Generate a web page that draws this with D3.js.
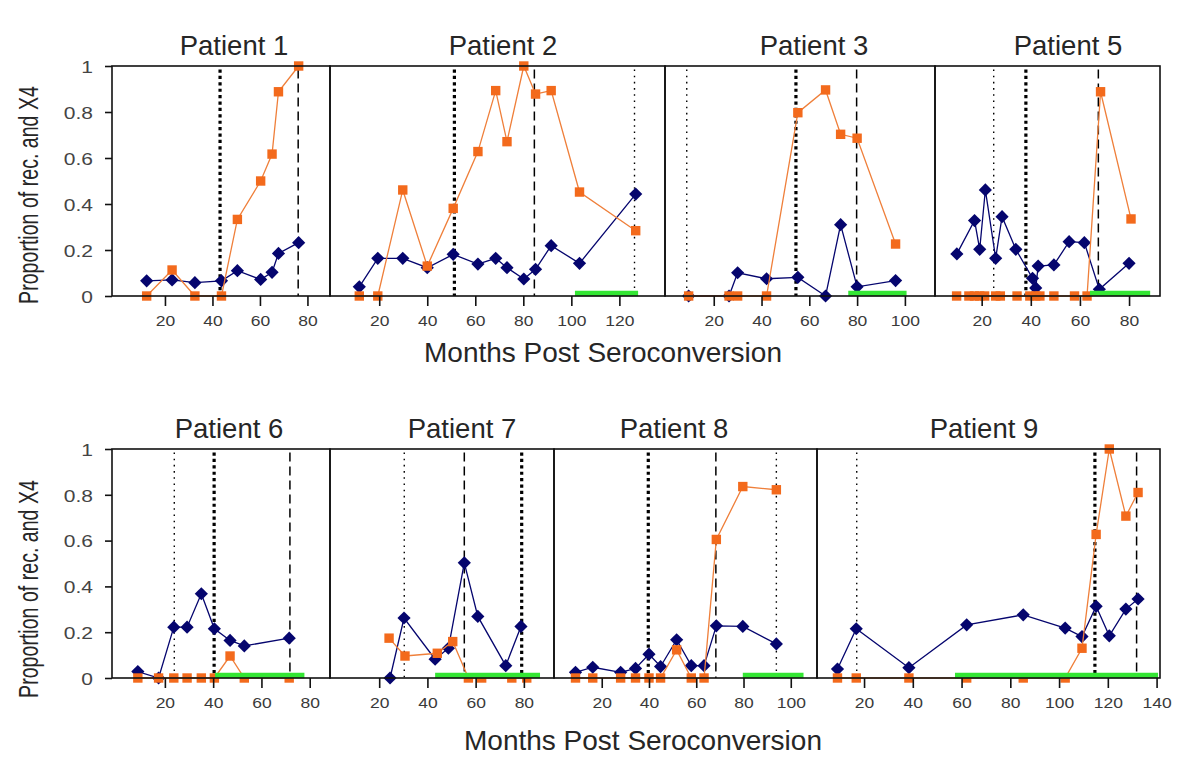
<!DOCTYPE html>
<html>
<head>
<meta charset="utf-8">
<script src="https://cdn.jsdelivr.net/npm/d3@7"></script>
<style>
  html, body { margin: 0; padding: 0; background: #fff; }
  svg { display: block; }
  text { font-family: "Liberation Sans", Arial, sans-serif; }
</style>
</head>
<body>
<svg id="chart" width="1200" height="767"></svg>
<script>
// ---------------- DATA ----------------
const patientNames = ["Patient 1", "Patient 2", "Patient 3", "Patient 5", "Patient 6", "Patient 7", "Patient 8", "Patient 9"];
const yTicks = [0, 0.2, 0.4, 0.6, 0.8, 1];
const yTickLabels = ["0", "0.2", "0.4", "0.6", "0.8", "1"];

// Patient 1
const p1Months = [12.3, 23.0, 32.6, 43.8, 50.5, 60.3, 65.1, 67.8, 76.3];
const p1Rec = [0.066, 0.07, 0.058, 0.066, 0.11, 0.072, 0.103, 0.185, 0.232];
const p1X4 = [0, 0.113, 0, 0, 0.333, 0.50, 0.617, 0.888, 1.0];
const p1Ticks = [20, 40, 60, 80];
const p1Markers = { thickDot: [43.2], dashed: [76.1], thinDot: [] };
const p1Therapy = [];

// Patient 2
const p2Months = [11.7, 19.4, 29.8, 40.0, 50.8, 61.1, 68.5, 73.2, 80.2, 85.1, 91.6, 103.4, 126.8];
const p2Rec = [0.04, 0.164, 0.164, 0.123, 0.181, 0.139, 0.164, 0.123, 0.074, 0.116, 0.219, 0.142, 0.443];
const p2X4 = [0, 0, 0.461, 0.13, 0.381, 0.628, 0.893, 0.671, 1.0, 0.878, 0.893, 0.452, 0.284];
const p2Ticks = [20, 40, 60, 80, 100, 120];
const p2Markers = { thickDot: [51.3], dashed: [84.6], thinDot: [126.3] };
const p2Therapy = [101.5, 127.8];

// Patient 3
const p3Months = [9.5, 26.4, 30.0, 42.1, 55.2, 66.8, 73.1, 80.0, 96.1];
const p3Rec = [0, 0, 0.101, 0.075, 0.081, 0, 0.31, 0.04, 0.067];
const p3X4 = [0, 0, 0, 0, 0.797, 0.896, 0.703, 0.686, 0.226];
const p3Ticks = [20, 40, 60, 80, 100];
const p3Markers = { thickDot: [54.4], dashed: [79.8], thinDot: [8.7] };
const p3Therapy = [76.3, 100.7];

// Patient 5
const p5RecMonths = [9.9, 17.1, 19.2, 21.5, 25.7, 28.3, 33.9, 40.7, 42.0, 43.0, 49.4, 55.6, 61.8, 67.9, 80.0];
const p5Rec = [0.183, 0.328, 0.203, 0.461, 0.164, 0.345, 0.203, 0.077, 0.035, 0.13, 0.135, 0.236, 0.232, 0.029, 0.142];
const p5X4Months = [9.8, 14.8, 17.1, 19.2, 21.2, 25.7, 27.6, 34.4, 39.6, 42.0, 43.7, 49.4, 57.8, 62.9, 68.4, 80.8];
const p5X4 = [0, 0, 0, 0, 0, 0, 0, 0, 0, 0, 0, 0, 0, 0, 0.888, 0.335];
const p5Ticks = [20, 40, 60, 80];
const p5Markers = { thickDot: [38.0], dashed: [67.5], thinDot: [24.9] };
const p5Therapy = [64.1, 88.6];

// Patient 6
const p6Months = [8.8, 17.4, 23.7, 29.2, 35.1, 40.5, 47.0, 52.9, 71.5];
const p6Rec = [0.028, 0, 0.222, 0.222, 0.368, 0.215, 0.164, 0.14, 0.174];
const p6X4 = [0, 0, 0, 0, 0, 0, 0.096, 0, 0];
const p6Ticks = [20, 40, 60, 80];
const p6Markers = { thickDot: [40.4], dashed: [71.8], thinDot: [23.9] };
const p6Therapy = [40.8, 77.8];

// Patient 7
const p7RecMonths = [24.5, 30.3, 43.2, 48.7, 55.3, 60.9, 72.5, 78.8];
const p7Rec = [0, 0.262, 0.082, 0.13, 0.503, 0.269, 0.054, 0.225];
const p7X4Months = [24.1, 30.7, 44.1, 50.5, 57.0, 62.5, 75.0, 81.2];
const p7X4 = [0.174, 0.096, 0.108, 0.159, 0, 0, 0, 0];
const p7Ticks = [20, 40, 60, 80];
const p7Markers = { thickDot: [79.1], dashed: [55.3], thinDot: [30.4] };
const p7Therapy = [43.2, 86.7];

// Patient 8
const p8Months = [8.9, 16.2, 28.0, 34.3, 40.0, 44.9, 51.7, 57.9, 63.3, 68.5, 79.7, 93.9];
const p8Rec = [0.025, 0.047, 0.025, 0.042, 0.104, 0.05, 0.167, 0.054, 0.054, 0.228, 0.225, 0.149];
const p8X4 = [0, 0, 0, 0, 0, 0, 0.123, 0, 0, 0.605, 0.836, 0.822];
const p8Ticks = [20, 40, 60, 80, 100];
const p8Markers = { thickDot: [39.7], dashed: [68.3], thinDot: [93.9] };
const p8Therapy = [79.7, 105.4];

// Patient 9
const p9Months = [9.1, 16.8, 38.4, 62.1, 85.3, 102.5, 109.4, 115.2, 120.6, 127.4, 132.4];
const p9Rec = [0.039, 0.215, 0.045, 0.232, 0.276, 0.218, 0.181, 0.313, 0.184, 0.301, 0.345];
const p9X4 = [0, 0, 0, 0, 0, 0, 0.13, 0.627, 1.0, 0.707, 0.81];
const p9Ticks = [20, 40, 60, 80, 100, 120, 140];
const p9Markers = { thickDot: [114.7], dashed: [131.8], thinDot: [17.0] };
const p9Therapy = [57.3, 140.6];

// ---------------- LAYOUT ----------------
const rows = [
  { top: 66, bottom: 296, xTitleX: 603, xTitleY: 362, yTitleY: 195 },
  { top: 449, bottom: 678, xTitleX: 643, xTitleY: 750, yTitleY: 589 }
];
const panels = [
  { name: patientNames[0], row: 0, x0: 112, x1: 330, domain: [-2.3, 89.5], titleX: 234, ticks: p1Ticks, recM: p1Months, rec: p1Rec, x4M: p1Months, x4: p1X4, marks: p1Markers, therapy: p1Therapy, yAxis: true },
  { name: patientNames[1], row: 0, x0: 330, x1: 665, domain: [-0.5, 139], titleX: 503, ticks: p2Ticks, recM: p2Months, rec: p2Rec, x4M: p2Months, x4: p2X4, marks: p2Markers, therapy: p2Therapy },
  { name: patientNames[2], row: 0, x0: 665, x1: 935, domain: [-0.4, 112.6], titleX: 814, ticks: p3Ticks, recM: p3Months, rec: p3Rec, x4M: p3Months, x4: p3X4, marks: p3Markers, therapy: p3Therapy },
  { name: patientNames[3], row: 0, x0: 935, x1: 1160, domain: [1.0, 92.6], titleX: 1068, ticks: p5Ticks, recM: p5RecMonths, rec: p5Rec, x4M: p5X4Months, x4: p5X4, marks: p5Markers, therapy: p5Therapy },
  { name: patientNames[4], row: 1, x0: 112, x1: 330, domain: [-1.9, 88.4], titleX: 229, ticks: p6Ticks, recM: p6Months, rec: p6Rec, x4M: p6Months, x4: p6X4, marks: p6Markers, therapy: p6Therapy, yAxis: true },
  { name: patientNames[5], row: 1, x0: 330, x1: 554, domain: [-0.4, 92.5], titleX: 462, ticks: p7Ticks, recM: p7RecMonths, rec: p7Rec, x4M: p7X4Months, x4: p7X4, marks: p7Markers, therapy: p7Therapy },
  { name: patientNames[6], row: 1, x0: 554, x1: 817, domain: [-0.2, 111.1], titleX: 674, ticks: p8Ticks, recM: p8Months, rec: p8Rec, x4M: p8Months, x4: p8X4, marks: p8Markers, therapy: p8Therapy },
  { name: patientNames[7], row: 1, x0: 817, x1: 1160, domain: [0.7, 141.4], titleX: 984, ticks: p9Ticks, recM: p9Months, rec: p9Rec, x4M: p9Months, x4: p9X4, marks: p9Markers, therapy: p9Therapy }
];

const NAVY = "#05056e";
const ORANGE = "#f36a1c";
const ORANGE_LINE = "#ef7f3a";
const GREEN = "#33e633";
const INK = "#111";
const TEXT = "#262626";

const svg = d3.select("#chart");

const lineStyles = {
  thickDot: { w: 3.2, dash: "3.2,3.2" },
  dashed: { w: 1.5, dash: "9,5" },
  thinDot: { w: 1.4, dash: "1.6,4.6" }
};

const diamond = s => `M0,${-s}L${s},0L0,${s}L${-s},0Z`;

panels.forEach(p => {
  const r = rows[p.row];
  const x = d3.scaleLinear().domain(p.domain).range([p.x0, p.x1]);
  const y = d3.scaleLinear().domain([0, 1]).range([r.bottom, r.top]);
  const g = svg.append("g");

  // Title
  g.append("text")
    .attr("x", p.titleX).attr("y", r.top - 11)
    .attr("text-anchor", "middle")
    .attr("font-size", 27.5).attr("fill", TEXT)
    .text(p.name);

  // Vertical event lines
  Object.keys(lineStyles).forEach(k => {
    p.marks[k].forEach(m => {
      g.append("line")
        .attr("x1", x(m)).attr("x2", x(m))
        .attr("y1", y(0.985)).attr("y2", y(0))
        .attr("stroke", "#000")
        .attr("stroke-width", lineStyles[k].w)
        .attr("stroke-dasharray", lineStyles[k].dash);
    });
  });

  const recPts = p.recM.map((m, i) => [m, p.rec[i]]);
  const x4Pts = p.x4M.map((m, i) => [m, p.x4[i]]);
  const line = d3.line().x(d => x(d[0])).y(d => y(d[1]));

  // Rec series (navy diamonds)
  g.append("path").attr("d", line(recPts))
    .attr("fill", "none").attr("stroke", NAVY).attr("stroke-width", 1.3);
  g.selectAll(".dia").data(recPts).enter().append("path")
    .attr("d", diamond(6.6))
    .attr("transform", d => `translate(${x(d[0])},${y(d[1])})`)
    .attr("fill", NAVY);

  // X4 series (orange squares)
  g.append("path").attr("d", line(x4Pts))
    .attr("fill", "none").attr("stroke", ORANGE_LINE).attr("stroke-width", 1.3);
  g.selectAll(".sq").data(x4Pts).enter().append("rect")
    .attr("x", d => x(d[0]) - 4.7).attr("y", d => y(d[1]) - 4.7)
    .attr("width", 9.4).attr("height", 9.4)
    .attr("fill", ORANGE);

  // Therapy bar
  if (p.therapy.length === 2) {
    g.append("line")
      .attr("x1", x(p.therapy[0])).attr("x2", x(p.therapy[1]))
      .attr("y1", y(0) - 2.5).attr("y2", y(0) - 2.5)
      .attr("stroke", GREEN).attr("stroke-width", 5.5);
  }

  // Frame
  g.append("rect")
    .attr("x", p.x0).attr("y", r.top)
    .attr("width", p.x1 - p.x0).attr("height", r.bottom - r.top)
    .attr("fill", "none").attr("stroke", INK).attr("stroke-width", 1.6);

  // X axis
  const xa = g.append("g").attr("transform", `translate(0,${r.bottom})`)
    .call(d3.axisBottom(x).tickValues(p.ticks).tickSize(10).tickFormat(d3.format("d")));
  xa.select(".domain").remove();
  xa.selectAll(".tick line").attr("stroke", INK).attr("stroke-width", 1.6);
  xa.selectAll(".tick text")
    .attr("y", 0).attr("dy", 0)
    .attr("transform", "translate(0,30) scale(1,0.88)")
    .attr("font-size", 17.5).attr("fill", "#3a3a3a")
    .attr("font-family", "'Liberation Sans', Arial, sans-serif");

  // Y axis
  if (p.yAxis) {
    const ya = g.append("g").attr("transform", `translate(${p.x0},0)`)
      .call(d3.axisLeft(y).tickValues(yTicks).tickSize(7)
        .tickFormat((d, i) => yTickLabels[i]));
    ya.select(".domain").remove();
    ya.selectAll(".tick line").attr("stroke", INK).attr("stroke-width", 1.6);
    ya.selectAll(".tick text")
      .attr("x", 0).attr("dy", 0)
      .attr("transform", "translate(-19,6.2) scale(1,0.82)")
      .attr("font-size", 21).attr("fill", "#444")
      .attr("font-family", "'Liberation Sans', Arial, sans-serif");
  }
});

// Axis titles
rows.forEach(r => {
  svg.append("text")
    .attr("x", r.xTitleX).attr("y", r.xTitleY)
    .attr("text-anchor", "middle").attr("font-size", 28).attr("fill", TEXT)
    .text("Months Post Seroconversion");
  svg.append("text")
    .attr("transform", `translate(38,${r.yTitleY}) scale(1,0.7) rotate(-90)`)
    .attr("text-anchor", "middle").attr("font-size", 28).attr("fill", TEXT)
    .text("Proportion of rec. and X4");
});
</script>
</body>
</html>
